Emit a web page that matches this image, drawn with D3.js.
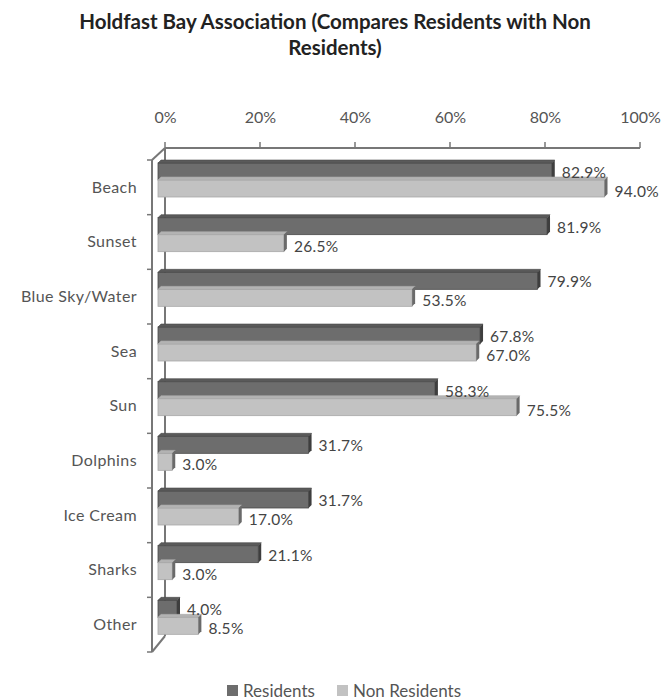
<!DOCTYPE html>
<html><head><meta charset="utf-8">
<script src="https://cdn.jsdelivr.net/npm/d3@7"></script>
<style>body{margin:0;background:#fff}svg{display:block}</style>
</head><body>
<script>
const categories = ["Beach","Sunset","Blue Sky/Water","Sea","Sun","Dolphins","Ice Cream","Sharks","Other"];
const residents = [82.9,81.9,79.9,67.8,58.3,31.7,31.7,21.1,4.0];
const nonResidents = [94.0,26.5,53.5,67.0,75.5,3.0,17.0,3.0,8.5];
const seriesNames = ["Residents","Non Residents"];
const tickValues = [0,20,40,60,80,100];

const W=668,H=700;
const svg=d3.select("body").append("svg").attr("width",W).attr("height",H);
const font="Lato, 'Open Sans', sans-serif";
const textCol="#555";

// title
const title=svg.append("text").attr("text-anchor","middle").attr("font-family",font)
  .attr("font-weight","bold").attr("font-size",20.5).attr("fill","#222");
title.append("tspan").attr("x",335).attr("y",29).text("Holdfast Bay Association (Compares Residents with Non");
title.append("tspan").attr("x",335).attr("y",55).text("Residents)");

const x=d3.scaleLinear().domain([0,100]).range([158,633]);
const y=d3.scaleBand().domain(categories).range([160,652]);
const ys=d3.scaleBand().domain(seriesNames).range([3,37]);
const backDx=7, depthDx=13, depthDy=12;
const axisCol="#777";

// back wall vertical line & top axis
const g=svg.append("g");
g.append("line").attr("x1",x(0)+backDx).attr("x2",x(0)+backDx).attr("y1",148).attr("y2",636)
  .attr("stroke",axisCol).attr("stroke-width",2);
g.append("line").attr("x1",x(0)+backDx).attr("x2",x(100)+backDx).attr("y1",148).attr("y2",148)
  .attr("stroke",axisCol).attr("stroke-width",2);
tickValues.forEach(t=>{
  g.append("line").attr("x1",x(t)+backDx).attr("x2",x(t)+backDx).attr("y1",148).attr("y2",142)
   .attr("stroke",axisCol).attr("stroke-width",1.5);
});
const topAxis=d3.axisTop(d3.scaleLinear().domain([0,100]).range([x(0)+backDx,x(100)+backDx]))
  .tickValues(tickValues).tickFormat(d=>d+"%").tickSize(0).tickPadding(0);
const ta=svg.append("g").attr("transform","translate(0,123)").call(topAxis);
ta.select(".domain").remove();
ta.selectAll("text").attr("font-family",font).attr("font-size",16).attr("fill",textCol).attr("dy","0");

// front vertical line and diagonals
g.append("line").attr("x1",152).attr("x2",152).attr("y1",160).attr("y2",652).attr("stroke",axisCol).attr("stroke-width",2);
g.append("line").attr("x1",152).attr("x2",152+depthDx).attr("y1",160).attr("y2",160-depthDy).attr("stroke",axisCol).attr("stroke-width",2);
g.append("line").attr("x1",152).attr("x2",152+depthDx).attr("y1",652).attr("y2",652-16).attr("stroke",axisCol).attr("stroke-width",2);
categories.concat(["_end"]).forEach((c,i)=>{
  const yy=i<categories.length? y(c): 652;
  g.append("line").attr("x1",147).attr("x2",152).attr("y1",yy).attr("y2",yy).attr("stroke",axisCol).attr("stroke-width",1.5);
});

// category labels
svg.append("g").selectAll("text").data(categories).join("text")
  .attr("x",137).attr("y",d=>y(d)+27).attr("dy","0.35em").attr("text-anchor","end")
  .attr("font-family",font).attr("font-size",16).attr("letter-spacing",0.4).attr("fill",textCol).text(d=>d);

// bars
const styles={
  "Residents":{front:"#6d6d6d",top:"#5a5a5a",side:"#3e3e3e",stroke:"#4a4a4a"},
  "Non Residents":{front:"#c2c2c2",top:"#b3b3b3",side:"#6a6a6a",stroke:"#a8a8a8"}
};
const rows=[];
categories.forEach((c,i)=>{
  rows.push({cat:c,s:"Residents",v:residents[i]});
  rows.push({cat:c,s:"Non Residents",v:nonResidents[i]});
});
const d3x=3,d3y=3;
const bg=svg.append("g");
rows.forEach(r=>{
  const st=styles[r.s];
  const y0=y(r.cat)+ys(r.s), h=ys.bandwidth(), x0=x(0), x1=x(r.v);
  bg.append("rect").attr("x",x0).attr("y",y0).attr("width",x1-x0).attr("height",h)
    .attr("fill",st.front).attr("stroke",st.stroke).attr("stroke-width",0.8);
  bg.append("path").attr("d",`M${x0},${y0}L${x0+d3x},${y0-d3y}L${x1+d3x},${y0-d3y}L${x1},${y0}Z`)
    .attr("fill",st.top).attr("stroke",st.stroke).attr("stroke-width",0.6);
  bg.append("path").attr("d",`M${x1},${y0}L${x1+d3x},${y0-d3y}L${x1+d3x},${y0+h-d3y}L${x1},${y0+h}Z`)
    .attr("fill",st.side);
});
// value labels
svg.append("g").selectAll("text").data(rows).join("text")
  .attr("x",d=>x(d.v)+10)
  .attr("y",d=>y(d.cat)+ys(d.s)+ys.bandwidth()/2+(d.s==="Residents"?1:3)).attr("dy","0.35em")
  .attr("font-family",font).attr("font-size",15.5).attr("letter-spacing",0.3).attr("fill","#444")
  .text(d=>d.v.toFixed(1)+"%");

// legend
const leg=svg.append("g").attr("transform","translate(0,691)");
const legX=[227,337];
seriesNames.forEach((s,i)=>{
  leg.append("rect").attr("x",legX[i]).attr("y",-6).attr("width",11).attr("height",11).attr("fill",styles[s].front);
  leg.append("text").attr("x",legX[i]+16).attr("y",0).attr("dy","0.35em").attr("font-family",font)
    .attr("font-size",17).attr("fill",textCol).text(s);
});
</script>
</body></html>
